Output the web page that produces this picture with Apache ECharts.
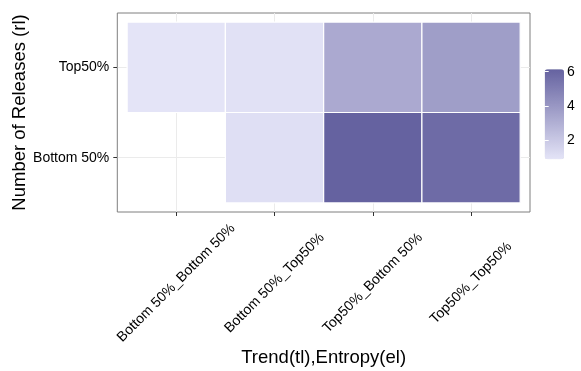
<!DOCTYPE html>
<html>
<head>
<meta charset="utf-8">
<script src="https://cdn.jsdelivr.net/npm/echarts@6/dist/echarts.min.js"></script>
<style>
  html, body { margin: 0; padding: 0; background: #fff; }
  #chart { width: 581px; height: 371px; }
</style>
</head>
<body>
<div id="chart"></div>
<script>
// Trend/entropy group combinations (x) and release-count group (y)
var trendEntropy = ['Bottom 50%_Bottom 50%', 'Bottom 50%_Top50%', 'Top50%_Bottom 50%', 'Top50%_Top50%'];
var releases = ['Bottom 50%', 'Top50%'];

// Fill values per row, one entry per trendEntropy category (null = no tile)
var bottomValues = [null, 1.07, 6.14, 5.77];
var topValues = [0.86, 0.99, 3.24, 3.71];

// Colour bar range and its tick labels
var fillMin = 0.86;
var fillMax = 6.14;
var legendTicks = [2, 4, 6];

var rows = [bottomValues, topValues];
var cells = [];
rows.forEach(function (row, yi) {
  row.forEach(function (v, xi) {
    if (v !== null) cells.push([xi + 1, yi + 1, v]);
  });
});

var xPositions = trendEntropy.map(function (_, i) { return i + 1; });
var yPositions = releases.map(function (_, i) { return i + 1; });

var FONT = '"Liberation Sans", Arial, Helvetica, sans-serif';
var chart = echarts.init(document.getElementById('chart'), null, { renderer: 'canvas' });

chart.setOption({
  backgroundColor: '#ffffff',
  animation: false,
  grid: [
    {
      left: 117.3, top: 13, width: 412.7, height: 199,
      outerBoundsMode: 'none', containLabel: false,
      show: true, borderColor: '#7f7f7f', borderWidth: 1, backgroundColor: '#ffffff'
    },
    { left: 544.7, top: 69.3, width: 19.3, height: 90, outerBoundsMode: 'none', containLabel: false }
  ],
  xAxis: [
    {
      gridIndex: 0, type: 'value', min: 0.4, max: 4.6,
      name: 'Trend(tl),Entropy(el)', nameLocation: 'middle', nameGap: 136, nameMoveOverlap: false,
      nameTextStyle: { fontSize: 18.5, color: '#000', fontFamily: FONT },
      axisLine: { show: false },
      axisTick: { show: true, length: 4, customValues: xPositions, lineStyle: { color: '#333', width: 1 } },
      axisLabel: {
        customValues: xPositions,
        formatter: function (v) { return trendEntropy[Math.round(v) - 1]; },
        rotate: 45, align: 'center', verticalAlign: 'middle', margin: 71,
        fontSize: 14, color: '#000', fontFamily: FONT
      },
      splitLine: { show: true, lineStyle: { color: '#ebebeb', width: 1 } }
    },
    {
      gridIndex: 1, type: 'value', min: 0, max: 1, show: false
    }
  ],
  yAxis: [
    {
      gridIndex: 0, type: 'value', min: 0.4, max: 2.6,
      name: 'Number of Releases (rl)', nameLocation: 'middle', nameGap: 88, nameMoveOverlap: false,
      nameTextStyle: { fontSize: 18.5, color: '#000', fontFamily: FONT },
      axisLine: { show: false },
      axisTick: { show: true, length: 4, customValues: yPositions, lineStyle: { color: '#333', width: 1 } },
      axisLabel: {
        customValues: yPositions,
        formatter: function (v) { return releases[Math.round(v) - 1]; },
        margin: 8, fontSize: 14, color: '#000', fontFamily: FONT
      },
      splitLine: { show: true, lineStyle: { color: '#ebebeb', width: 1 } }
    },
    {
      gridIndex: 1, type: 'value', min: fillMin, max: fillMax, position: 'right', z: 10,
      axisLine: { show: false },
      axisTick: { show: true, inside: true, length: 4, customValues: legendTicks, lineStyle: { color: '#ffffff', width: 1 } },
      axisLabel: { customValues: legendTicks, margin: 3, fontSize: 14, color: '#000', fontFamily: FONT },
      splitLine: { show: false }
    },
    {
      gridIndex: 1, type: 'value', min: fillMin, max: fillMax, position: 'left', z: 10,
      axisLine: { show: false },
      axisTick: { show: true, inside: true, length: 4, customValues: legendTicks, lineStyle: { color: '#ffffff', width: 1 } },
      axisLabel: { show: false },
      splitLine: { show: false }
    }
  ],
  visualMap: {
    type: 'continuous',
    seriesIndex: 0,
    dimension: 2,
    min: fillMin, max: fillMax,
    calculable: false,
    hoverLink: false,
    orient: 'vertical',
    left: 544.7, top: 69.3,
    itemWidth: 19.3, itemHeight: 90,
    padding: 0,
    text: null,
    showLabel: false,
    inRange: { color: ['#e4e4f7', '#6562a0'] }
  },
  series: [
    {
      type: 'custom',
      xAxisIndex: 0, yAxisIndex: 0,
      data: cells,
      encode: { x: 0, y: 1 },
      renderItem: function (params, api) {
        var x = api.value(0), y = api.value(1);
        var p0 = api.coord([x - 0.5, y + 0.5]);
        var p1 = api.coord([x + 0.5, y - 0.5]);
        return {
          type: 'rect',
          shape: { x: p0[0], y: p0[1], width: p1[0] - p0[0], height: p1[1] - p0[1] },
          style: { fill: api.visual('color'), stroke: '#ffffff', lineWidth: 1.2 }
        };
      }
    }
  ]
});
</script>
</body>
</html>
